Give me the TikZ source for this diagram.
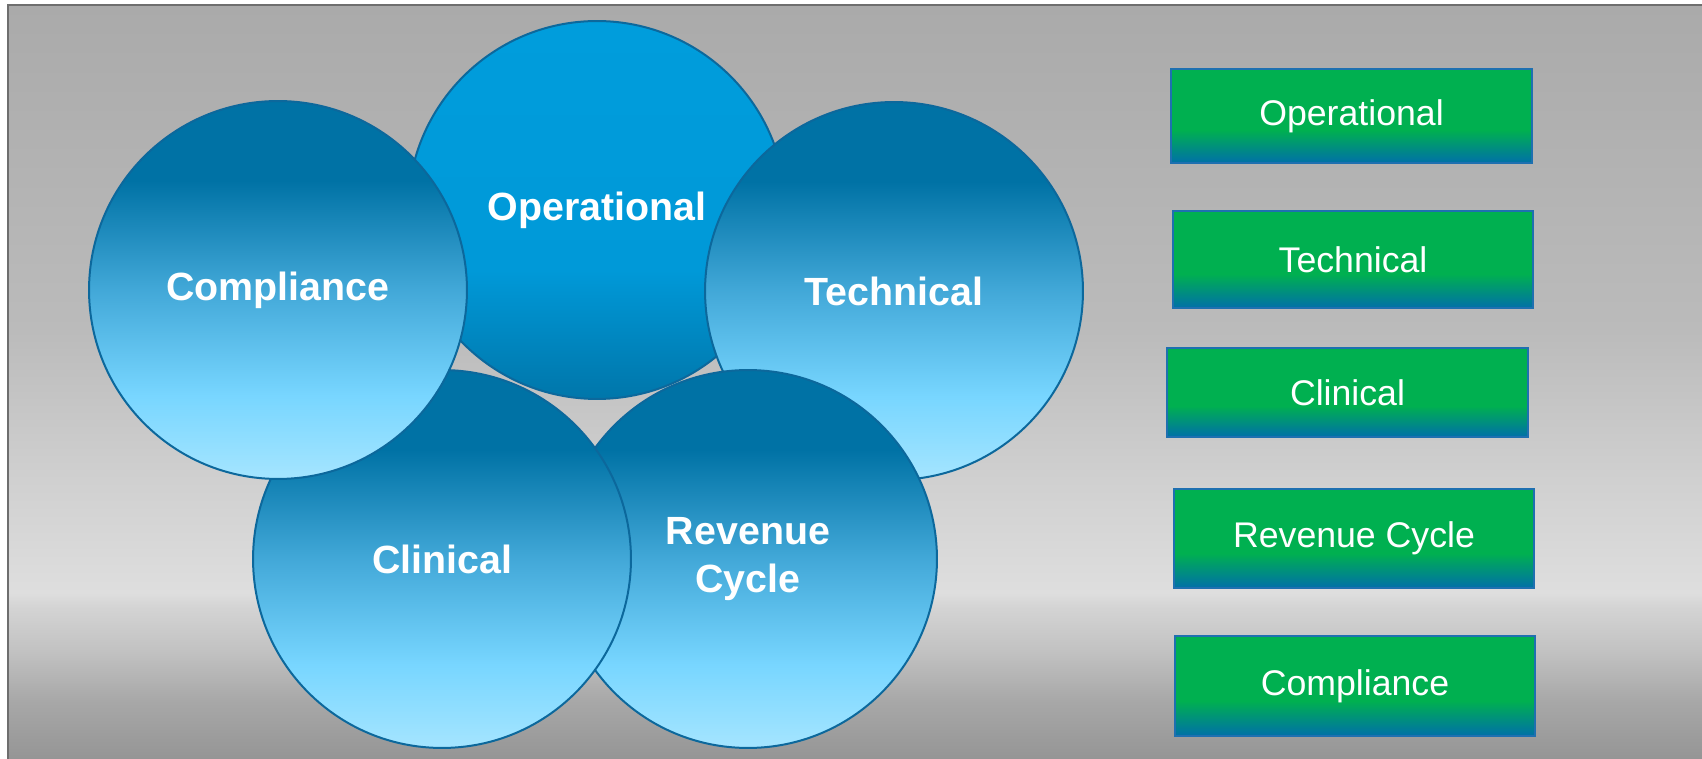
\documentclass[tikz,border=0pt]{standalone}
\usepackage{fontspec}
\setmainfont{Liberation Sans}
\usepackage{xcolor}
\usepackage{tikz}
\usetikzlibrary{positioning,shadings}
\definecolor{framegray}{RGB}{110,110,110}
\definecolor{bgA}{RGB}{170,170,170}
\definecolor{bgB}{RGB}{187,187,187}
\definecolor{bgC}{RGB}{208,208,208}
\definecolor{bgD}{RGB}{222,222,222}
\definecolor{bgE}{RGB}{212,212,212}
\definecolor{bgF}{RGB}{194,194,194}
\definecolor{bgG}{RGB}{168,168,168}
\definecolor{bgH}{RGB}{149,149,149}
\definecolor{cdark}{RGB}{0,114,165}
\definecolor{cmid}{RGB}{66,168,216}
\definecolor{clight}{RGB}{120,214,255}
\definecolor{cpale}{RGB}{165,229,255}
\definecolor{optop}{RGB}{0,157,220}
\definecolor{opmid}{RGB}{0,153,216}
\definecolor{opbot}{RGB}{0,118,170}
\definecolor{cborder}{RGB}{12,104,156}
\definecolor{boxgreen}{RGB}{0,176,80}
\definecolor{boxblue}{RGB}{0,112,168}
\definecolor{boxborder}{RGB}{30,112,176}
\pgfdeclareverticalshading{bgshade}{100bp}{color(0bp)=(bgH); color(25bp)=(bgH);
  color(28.9bp)=(bgG); color(32.2bp)=(bgF); color(35.1bp)=(bgE); color(36bp)=(bgD);
  color(43.5bp)=(bgC); color(53.4bp)=(bgB); color(75bp)=(bgA); color(100bp)=(bgA)}
\pgfdeclareverticalshading{circshade}{100bp}{color(0bp)=(cpale); color(25bp)=(cpale);
  color(36bp)=(clight); color(50bp)=(cmid); color(64.5bp)=(cdark); color(100bp)=(cdark)}
\pgfdeclareverticalshading{opshade}{100bp}{color(0bp)=(opbot); color(25bp)=(opbot);
  color(42bp)=(opmid); color(75bp)=(optop); color(100bp)=(optop)}
\pgfdeclareverticalshading{boxshade}{100bp}{color(0bp)=(boxblue); color(25bp)=(boxblue);
  color(42.5bp)=(boxgreen); color(100bp)=(boxgreen)}
\tikzset{
  area/.style={circle,shading=#1,draw=cborder,line width=0.04cm,
               minimum size=7.56cm,inner sep=0pt,align=center,text=white,
               font=\bfseries\fontsize{22.4}{27}\selectfont},
  area/.default=circshade,
  gbox/.style={rectangle,shading=boxshade,draw=boxborder,line width=0.04cm,
               minimum width=7.22cm,minimum height=#1,inner sep=0pt,outer sep=0pt,
               text=white,font=\fontsize{20.3}{24}\selectfont},
  gbox/.default=1.9cm,
}
\begin{document}
\begin{tikzpicture}[x=0.02cm,y=-0.02cm]
    \useasboundingbox (0,0) rectangle (1702,759);
    \shade[shading=bgshade] (8,5) rectangle (1712,759);
    \draw[framegray,line width=0.03cm] (8,770) |- (1712,5);

    \node[area=opshade] (op)   at (597,210) {Operational};
    \node[area]         (tech) at (894,291) {Technical};
    \node[area]         (rev)  at (748,559) {Revenue\\Cycle};
    \node[area]         (clin) at (442,559) {Clinical};
    \node[area]         (comp) at (278,290) {Compliance};

    \node[gbox=1.88cm] (bop) at (1351.5,116) {Operational};
    \node[gbox=1.94cm,below=0.96cm of bop,xshift=0.03cm]   (btech) {Technical};
    \node[gbox=1.78cm,below=0.8cm of btech,xshift=-0.11cm] (bclin) {Clinical};
    \node[gbox=1.98cm,below=1.04cm of bclin,xshift=0.13cm] (brev)  {Revenue Cycle};
    \node[gbox=2.0cm,below=0.96cm of brev,xshift=0.02cm]   (bcomp) {Compliance};
\end{tikzpicture}
\end{document}
